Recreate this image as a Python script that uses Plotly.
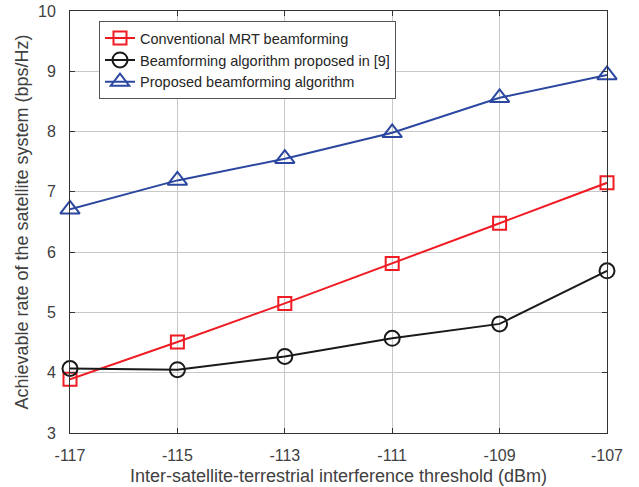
import plotly.graph_objects as go

# Interference threshold (dBm)
thresholds = [-117, -115, -113, -111, -109, -107]

# Achievable rate (bps/Hz) for each scheme
rate_mrt = [3.89, 4.51, 5.15, 5.81, 6.48, 7.15]
rate_ref9 = [4.07, 4.05, 4.27, 4.57, 4.81, 5.69]
rate_proposed = [6.71, 7.19, 7.55, 7.98, 8.56, 8.94]

series = [
    ("Conventional MRT beamforming", rate_mrt, "#f01c24", "square-open", 13),
    ("Beamforming algorithm proposed in [9]", rate_ref9, "#1a1a1a", "circle-open", 15),
    ("Proposed beamforming algorithm", rate_proposed, "#2c47a0", "triangle-up-open", 17),
]

fig = go.Figure()
for name, vals, color, symbol, size in series:
    fig.add_trace(go.Scatter(
        x=thresholds, y=vals, name=name, mode="lines+markers",
        cliponaxis=False,
        line=dict(color=color, width=2),
        marker=dict(symbol=symbol, size=size, color=color,
                    line=dict(color=color, width=2)),
    ))

FONT = "Liberation Sans, Arial"

axis_common = dict(
    showgrid=True, gridcolor="#c8c8c8", gridwidth=1,
    showline=True, linecolor="#333333", linewidth=1, mirror="ticks",
    ticks="inside", ticklen=5, tickcolor="#333333",
    zeroline=False, automargin=False,
    tickfont=dict(family=FONT, size=16, color="#404040"),
)

fig.update_layout(
    width=639, height=487,
    margin=dict(l=70, r=32, t=11, b=54),
    paper_bgcolor="white", plot_bgcolor="white",
    xaxis=dict(range=[-117, -107], tickvals=thresholds,
               ticktext=[str(t) for t in thresholds],
               ticklabelstandoff=8,
               title=dict(text="Inter-satellite-terrestrial interference threshold (dBm)",
                          font=dict(family=FONT, size=18, color="#404040"),
                          standoff=6),
               **axis_common),
    yaxis=dict(range=[3, 10], dtick=1,
               ticklabelstandoff=10,
               title=dict(text="Achievable rate of the satellite system (bps/Hz)",
                          font=dict(family=FONT, size=18, color="#404040"),
                          standoff=4),
               **axis_common),
    legend=dict(x=0.054, y=0.976, xanchor="left", yanchor="top",
                bgcolor="white", bordercolor="#555555", borderwidth=1,
                font=dict(family=FONT, size=14.5, color="#262626"),
                tracegroupgap=0, itemwidth=30),
    showlegend=True,
)

fig.write_html("out.html")
